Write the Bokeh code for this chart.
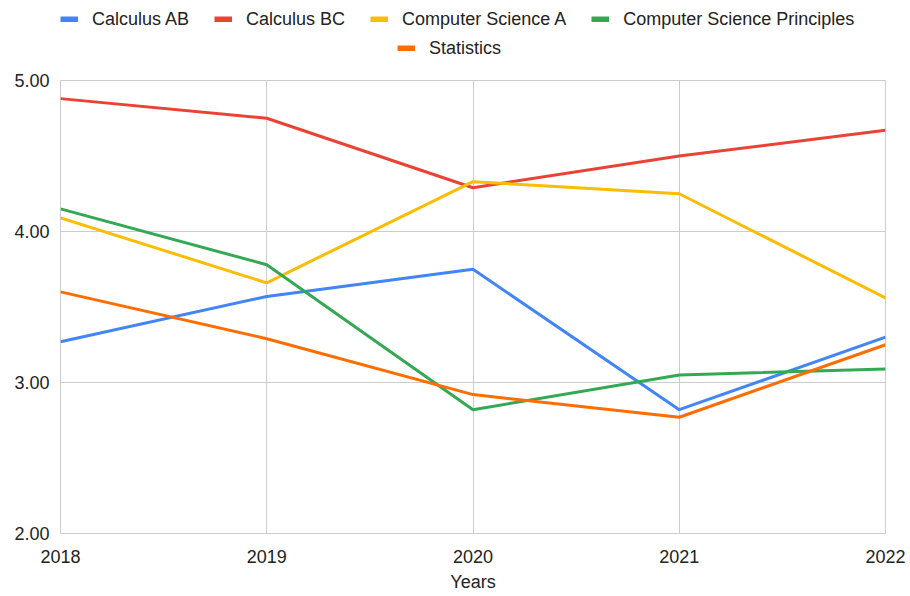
from bokeh.plotting import figure
from bokeh.models import Range1d, FixedTicker, NumeralTickFormatter, Legend, LegendItem
from bokeh.layouts import column
from bokeh.embed import file_html
from bokeh.resources import INLINE

years = [2018, 2019, 2020, 2021, 2022]
calc_ab = [3.27, 3.57, 3.75, 2.82, 3.30]
calc_bc = [4.88, 4.75, 4.29, 4.50, 4.67]
cs_a = [4.09, 3.66, 4.33, 4.25, 3.56]
cs_p = [4.15, 3.78, 2.82, 3.05, 3.09]
stats = [3.60, 3.29, 2.92, 2.77, 3.25]

series_names = ["Calculus AB", "Calculus BC", "Computer Science A",
                "Computer Science Principles", "Statistics"]
series_values = [calc_ab, calc_bc, cs_a, cs_p, stats]
colors = ["#4285F4", "#EA4335", "#FBBC04", "#34A853", "#FF6D01"]
y_ticks = [2, 3, 4, 5]

FONT = "Liberation Sans"
TXT = "#222222"
W = 908
TOP_H = 70
MAIN_H = 524

# ---- legend strip (its frame is aligned with the chart frame below) ----
lf = figure(width=W, height=TOP_H, output_backend="svg", toolbar_location=None,
            x_range=Range1d(0, 1), y_range=Range1d(0, 1),
            x_axis_location=None, y_axis_location=None,
            min_border_left=0, min_border_right=0, min_border_top=0, min_border_bottom=0)
lf.grid.visible = False
lf.outline_line_color = None
lf.border_fill_color = "white"

legend_renderers = []
for vals, c in zip(series_values, colors):
    # series kept outside this strip's visible range; only used for legend swatches
    legend_renderers.append(lf.line(years, vals, line_color=c, line_width=6,
                                    line_cap="butt"))

def make_legend(idx, loc):
    items = [LegendItem(label=series_names[i], renderers=[legend_renderers[i]]) for i in idx]
    return Legend(items=items, orientation="horizontal", location=loc,
                  label_text_font=FONT, label_text_font_size="18px",
                  label_text_color=TXT, label_height=22,
                  glyph_width=18, glyph_height=6, label_standoff=14, spacing=25,
                  padding=0, margin=0, border_line_color=None,
                  background_fill_alpha=0)

lf.add_layout(make_legend([0, 1, 2, 3], (0, 40)), "center")
lf.add_layout(make_legend([4], (337, 11)), "center")

# ---- main chart ----
p = figure(width=W, height=MAIN_H, output_backend="svg", toolbar_location=None,
           x_range=Range1d(2018, 2022), y_range=Range1d(2, 5),
           min_border_left=60, min_border_right=23, min_border_bottom=61,
           min_border_top=80 - TOP_H)
p.outline_line_color = "#cccccc"
p.background_fill_color = "white"
p.border_fill_color = "white"

for vals, c in zip(series_values, colors):
    p.line(years, vals, line_color=c, line_width=3)

for ax in (p.xaxis[0], p.yaxis[0]):
    ax.axis_line_color = None
    ax.major_tick_line_color = None
    ax.minor_tick_line_color = None
    ax.major_label_text_font = FONT
    ax.major_label_text_font_size = "18px"
    ax.major_label_text_color = TXT

p.xaxis.ticker = FixedTicker(ticks=years)
p.xaxis.formatter = NumeralTickFormatter(format="0")
p.xaxis.major_label_standoff = 10
p.xaxis.axis_label = "Years"
p.xaxis.axis_label_text_font = FONT
p.xaxis.axis_label_text_font_size = "18px"
p.xaxis.axis_label_text_font_style = "normal"
p.xaxis.axis_label_text_color = TXT
p.xaxis.axis_label_standoff = 6

p.yaxis.ticker = FixedTicker(ticks=y_ticks)
p.yaxis.formatter = NumeralTickFormatter(format="0.00")
p.yaxis.major_label_standoff = 5

p.xgrid.ticker = FixedTicker(ticks=years)
p.ygrid.ticker = FixedTicker(ticks=y_ticks)
for g in (p.xgrid[0], p.ygrid[0]):
    g.grid_line_color = "#cccccc"
    g.grid_line_width = 1

layout = column(lf, p, spacing=0)
open("out.html", "w").write(file_html(layout, INLINE))
